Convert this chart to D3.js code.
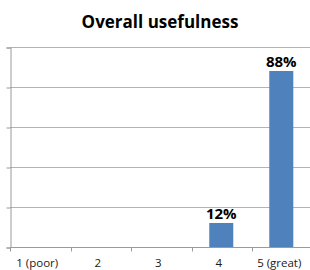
<!DOCTYPE html>
<html>
<head>
<meta charset="utf-8">
<script src="https://cdn.jsdelivr.net/npm/d3@7"></script>
<style>
body { margin: 0; background: #fff; }
text { font-family: "Open Sans", sans-serif; }
</style>
</head>
<body>
<svg id="chart" width="310" height="270"></svg>
<script>
// ratings and share of answers
var categories = ["1 (poor)", "2", "3", "4", "5 (great)"];
var values = [0, 0, 0, 12, 88];
var yTicks = [0, 20, 40, 60, 80, 100];

var svg = d3.select("#chart"),
    width = +svg.attr("width"),
    height = +svg.attr("height");

var margin = {top: 47, left: 10, bottom: 23};
var plotW = 302.5, plotH = 200;

var x = d3.scaleBand().domain(categories).range([margin.left, margin.left + plotW]).paddingInner(0.6).paddingOuter(0.32);
var xb = d3.scaleBand().domain(categories).range([margin.left, margin.left + plotW]);
var y = d3.scaleLinear().domain([0, 100]).range([margin.top + plotH, margin.top]);

svg.append("text")
    .attr("x", 160).attr("y", 28)
    .attr("text-anchor", "middle")
    .style("font-size", "17px").style("font-weight", "bold")
    .text("Overall usefulness");

// gridlines
svg.selectAll(".grid").data(yTicks.slice(1)).enter().append("line")
    .attr("x1", margin.left).attr("x2", width)
    .attr("y1", function(d) { return y(d) + 0.5; })
    .attr("y2", function(d) { return y(d) + 0.5; })
    .attr("stroke", "#b3b3b3");

// y axis
svg.append("g")
    .attr("transform", "translate(" + (margin.left + 0.5) + ",0.5)")
    .call(d3.axisLeft(y).tickValues(yTicks).tickSize(4).tickFormat(""))
    .call(function(g) { g.selectAll("line, path").attr("stroke", "#9a9a9a"); });

// bars
svg.selectAll(".bar").data(values).enter().append("rect")
    .attr("x", function(d, i) { return x(categories[i]); })
    .attr("width", x.bandwidth())
    .attr("y", function(d) { return y(d); })
    .attr("height", function(d) { return y(0) - y(d); })
    .attr("fill", "#4f81bd");

// x axis
var xAxisG = svg.append("g")
    .attr("transform", "translate(0," + (y(0) + 0.5) + ")");
xAxisG.append("line")
    .attr("x1", margin.left).attr("x2", width)
    .attr("stroke", "#9a9a9a");
xAxisG.selectAll(".tk").data(categories).enter().append("line")
    .attr("x1", function(d) { return Math.round(xb(d)) + 0.5; })
    .attr("x2", function(d) { return Math.round(xb(d)) + 0.5; })
    .attr("y1", 0).attr("y2", 4)
    .attr("stroke", "#9a9a9a");
xAxisG.selectAll(".lbl").data(categories).enter().append("text")
    .attr("x", function(d) { return xb(d) + xb.bandwidth() / 2 - 3; })
    .attr("y", 19)
    .attr("text-anchor", "middle")
    .style("font-size", "11.5px")
    .attr("fill", "#1a1a1a")
    .text(function(d) { return d; });

// value labels
svg.selectAll(".val").data(values).enter().filter(function(d) { return d > 0; })
    .append("text")
    .attr("x", function(d, i) { return x(categories[values.indexOf(d)]) + x.bandwidth() / 2; })
    .attr("y", function(d) { return y(d) - 4; })
    .attr("text-anchor", "middle")
    .style("font-size", "15px").style("font-weight", "bold")
    .text(function(d) { return d + "%"; });
</script>
</body>
</html>
